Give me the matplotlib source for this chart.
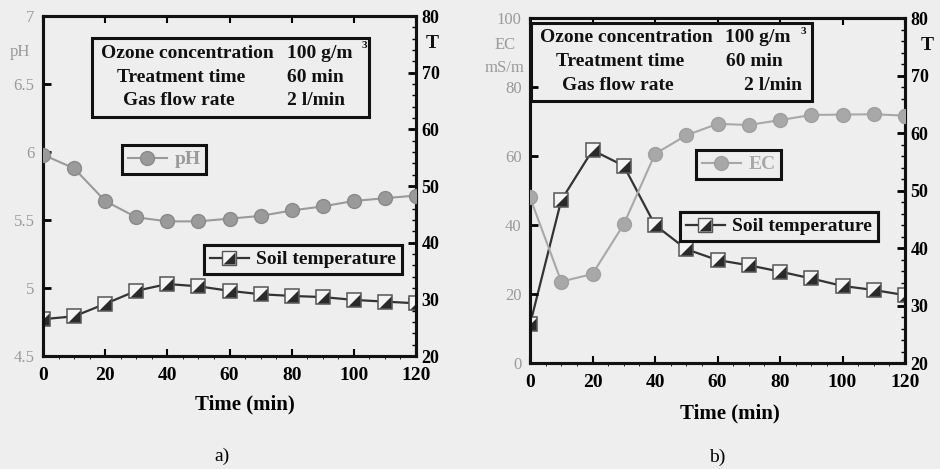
import matplotlib
matplotlib.use("Agg")
import matplotlib.pyplot as plt
from matplotlib.path import Path
from matplotlib.lines import Line2D
from matplotlib.patches import Rectangle

# data
time_min = [0, 10, 20, 30, 40, 50, 60, 70, 80, 90, 100, 110, 120]
ph_values = [5.98, 5.88, 5.64, 5.52, 5.49, 5.49, 5.51, 5.53, 5.57, 5.60, 5.64, 5.66, 5.68]
soil_temp_a = [26.5, 27.0, 29.2, 31.5, 32.7, 32.3, 31.5, 30.9, 30.6, 30.4, 29.9, 29.6, 29.3]
ec_values = [48.0, 23.6, 25.8, 40.2, 60.6, 66.0, 69.3, 69.0, 70.4, 71.9, 72.0, 72.1, 71.7]
soil_temp_b = [26.7, 48.3, 57.0, 54.3, 44.0, 39.8, 37.9, 37.0, 35.9, 34.7, 33.4, 32.7, 31.8]

x_ticks = [0, 20, 40, 60, 80, 100, 120]
ph_ticks = [4.5, 5, 5.5, 6, 6.5, 7]
ph_tick_labels = ["4.5", "5", "5.5", "6", "6.5", "7"]
ec_ticks = [0, 20, 40, 60, 80, 100]
t_ticks = [20, 30, 40, 50, 60, 70, 80]

info_rows = [("Ozone concentration", "100 g/m"),
             ("Treatment time", "60 min"),
             ("Gas flow rate", "2 l/min")]

W, H = 940, 469
BG = "#eeeeee"
GREY = "#9a9a9a"
GREY_B = "#a8a8a8"
SERIF = ["Liberation Serif", "DejaVu Serif"]

plt.rcParams["font.family"] = SERIF
plt.rcParams["font.weight"] = "bold"

# lower-right dark triangle for the half filled square marker
tri = Path([(-1, -1), (1, -1), (1, 1), (-1, -1)],
           [Path.MOVETO, Path.LINETO, Path.LINETO, Path.CLOSEPOLY])


def fx(px):
    return px / W


def fy(py):
    return 1 - py / H


def temp_marks(ax, x, y, z=4):
    ax.plot(x, y, color="#333333", lw=1.6, zorder=z)
    ax.plot(x, y, ls="none", marker="s", ms=10, mfc="#f4f4f4", mec="#555555", mew=1.1, zorder=z + 1)
    ax.plot(x, y, ls="none", marker=tri, ms=9, mfc="#2a2a2a", mec="none", zorder=z + 2)


def temp_handle():
    h1 = Line2D([], [], color="#333333", lw=1.6, marker="s", ms=10, mfc="#f4f4f4", mec="#555555")
    h2 = Line2D([], [], ls="none", marker=tri, ms=9, mfc="#2a2a2a", mec="none")
    return (h1, h2)


def add_legend(ax, handle, label, x, y, color="#111111"):
    leg = ax.legend([handle], [label], loc="upper left", bbox_to_anchor=(fx(x), fy(y)),
                    bbox_transform=ax.figure.transFigure, fancybox=False, framealpha=1,
                    handlelength=2.0, handletextpad=0.4, borderpad=0.3, borderaxespad=0,
                    fontsize=14, labelcolor=color, edgecolor="#111111", facecolor=BG)
    leg.get_frame().set_linewidth(2.2)
    ax.add_artist(leg)


def info_box(fig, x0, y0, x1, y1, value_shift=(0, 0, 0)):
    fig.patches.append(Rectangle((fx(x0), fy(y1)), fx(x1 - x0), fy(y0) - fy(y1),
                                 transform=fig.transFigure, fill=False, lw=2.2,
                                 ec="#111111", zorder=10))
    row_y = [y0 + 15, y0 + 39, y0 + 62]
    label_x = [x0 + 95, x0 + 89, x0 + 87]
    for (name, val), yy, lx, dv in zip(info_rows, row_y, label_x, value_shift):
        fig.text(fx(lx), fy(yy), name, ha="center", va="center", fontsize=14,
                 fontweight="bold", color="#111111")
        fig.text(fx(x0 + 195 + dv), fy(yy), val, ha="left", va="center", fontsize=14,
                 fontweight="bold", color="#111111")
    fig.text(fx(x0 + 270), fy(y0 + 8), "3", ha="left", va="center", fontsize=8,
             fontweight="bold", color="#111111")


def style_axes(ax, ax2):
    ax.set_facecolor("none")
    for sp in list(ax.spines.values()) + list(ax2.spines.values()):
        sp.set_linewidth(2.2)
        sp.set_color("#111111")
    ax.set_xlim(0, 120)
    ax.set_xticks(x_ticks)
    ax.tick_params(axis="x", direction="in", top=True, length=5, width=1.5,
                   labelsize=14, pad=8)
    ax.tick_params(axis="y", direction="in", length=6, width=2,
                   labelsize=12, labelcolor=GREY, pad=6)
    for lab in ax.get_yticklabels():
        lab.set_fontweight("normal")
    ax2.set_ylim(20, 80)
    ax2.set_yticks(t_ticks)
    ax2.minorticks_on()
    ax2.tick_params(axis="y", which="major", direction="in", length=6, width=2,
                    labelsize=13, pad=4)
    ax2.tick_params(axis="y", which="minor", direction="in", length=3, width=1)
    ax2.tick_params(axis="x", which="minor", bottom=False, top=False)
    ax.set_xlabel("Time (min)", fontsize=15, fontweight="bold")


fig = plt.figure(figsize=(W / 100, H / 100), dpi=100, facecolor=BG)

# panel a
ax_a = fig.add_axes([fx(43), fy(356), fx(416 - 43), fy(16) - fy(356)])
ax_a2 = ax_a.twinx()
ax_a.plot(time_min, ph_values, color=GREY, lw=1.5, marker="o", ms=10,
          mfc=GREY, mec="#8a8a8a", zorder=3)
ax_a.set_ylim(4.5, 7)
ax_a.set_yticks(ph_ticks)
ax_a.set_yticklabels(ph_tick_labels)
temp_marks(ax_a2, time_min, soil_temp_a)
style_axes(ax_a, ax_a2)
ax_a.xaxis.set_label_coords(0.54, -0.114)
ax_a.set_zorder(ax_a2.get_zorder() + 1)

add_legend(ax_a, Line2D([], [], color=GREY, lw=1.5, marker="o", ms=10, mfc=GREY, mec="#8a8a8a"),
           "pH", 122, 145, GREY)
add_legend(ax_a, temp_handle(), "Soil temperature", 204, 245)

fig.text(fx(20), fy(52), "pH", ha="center", va="center", fontsize=12,
         color=GREY, fontweight="normal")
fig.text(fx(432), fy(44), "T", ha="center", va="center", fontsize=14, color="#111111")
info_box(fig, 92, 38, 369, 117)
fig.text(fx(222), fy(456), "a)", ha="center", va="center", fontsize=14, fontweight="normal")

# panel b
ax_b = fig.add_axes([fx(530), fy(363), fx(905 - 530), fy(18) - fy(363)])
ax_b2 = ax_b.twinx()
ax_b.plot(time_min, ec_values, color=GREY_B, lw=1.5, marker="o", ms=10,
          mfc=GREY_B, mec="#a0a0a0", zorder=3)
ax_b.set_ylim(0, 100)
ax_b.set_yticks(ec_ticks)
temp_marks(ax_b2, time_min, soil_temp_b)
style_axes(ax_b, ax_b2)
ax_b.xaxis.set_label_coords(0.533, -0.117)
ax_b.set_zorder(ax_b2.get_zorder() + 1)

add_legend(ax_b, Line2D([], [], color=GREY_B, lw=1.5, marker="o", ms=10, mfc=GREY_B, mec="#a0a0a0"),
           "EC", 696, 150, GREY_B)
add_legend(ax_b, temp_handle(), "Soil temperature", 680, 212)

fig.text(fx(505), fy(45), "EC", ha="center", va="center", fontsize=12,
         color=GREY, fontweight="normal")
fig.text(fx(505), fy(68), "mS/m", ha="center", va="center", fontsize=12,
         color=GREY, fontweight="normal")
fig.text(fx(927), fy(45), "T", ha="center", va="center", fontsize=14, color="#111111")
info_box(fig, 531, 23, 812, 101, value_shift=(-1, 0, 18))
fig.text(fx(717), fy(457), "b)", ha="center", va="center", fontsize=14, fontweight="normal")

fig.savefig("out.png", dpi=100, facecolor=BG)
